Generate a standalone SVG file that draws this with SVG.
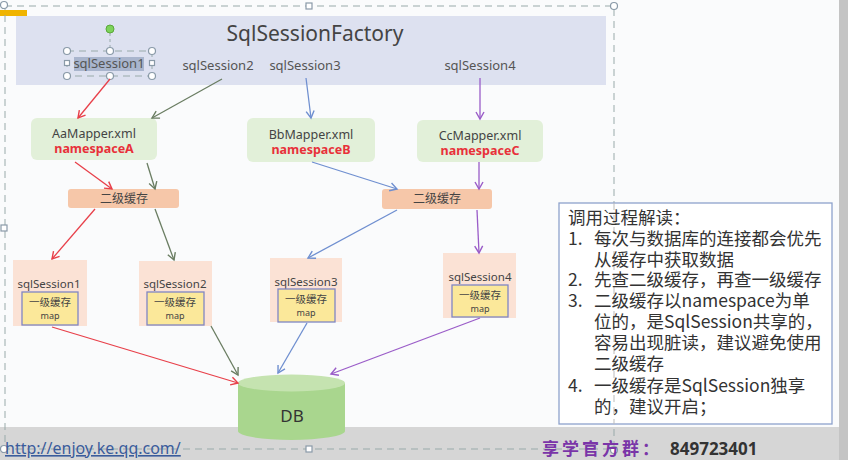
<svg xmlns="http://www.w3.org/2000/svg" width="848" height="460" viewBox="0 0 848 460">
<style>
text{font-family:"Noto Sans","Noto Sans CJK SC",sans-serif;}
.lbl{font-size:13px;fill:#555;text-anchor:middle;}
.map{fill:#e2f0d9;}
.mt{font-size:12.5px;fill:#444;text-anchor:middle;}
.ns{font-size:12.5px;fill:#e8303a;font-weight:bold;text-anchor:middle;}
.cache{fill:#f6c7a9;}
.ct{font-size:12px;fill:#444;text-anchor:middle;font-family:"Noto Sans CJK SC",sans-serif;}
.sess{fill:#fbe2d5;}
.inner{fill:#fbe89a;stroke:#7f86c4;stroke-width:1.3;}
.st{font-size:11.5px;fill:#444;text-anchor:middle;}
.it{font-size:10.5px;fill:#444;text-anchor:middle;font-family:"Noto Sans CJK SC",sans-serif;}
.im{font-size:9px;fill:#444;text-anchor:middle;}
.c{fill:none;stroke-width:1.3;}
.red{stroke:#e8404a;marker-end:url(#ar);}
.grn{stroke:#6a7d62;marker-end:url(#ag);}
.blu{stroke:#6f8fd0;marker-end:url(#ab);}
.pur{stroke:#9a5cc8;marker-end:url(#ap);}
.note{font-size:17.5px;fill:#333;font-family:"Noto Sans CJK SC",sans-serif;}
.sel{fill:none;stroke:#9aa;stroke-width:1;stroke-dasharray:7 5;}
.h{fill:#fff;stroke:#8a9aa8;stroke-width:1.2;}
</style>
<defs>
<marker id="ar" markerWidth="10" markerHeight="10" refX="8" refY="5" orient="auto" markerUnits="userSpaceOnUse"><path d="M1,1 L8,5 L1,9" fill="none" stroke="#e8404a" stroke-width="1.4"/></marker>
<marker id="ag" markerWidth="10" markerHeight="10" refX="8" refY="5" orient="auto" markerUnits="userSpaceOnUse"><path d="M1,1 L8,5 L1,9" fill="none" stroke="#6a7d62" stroke-width="1.4"/></marker>
<marker id="ab" markerWidth="10" markerHeight="10" refX="8" refY="5" orient="auto" markerUnits="userSpaceOnUse"><path d="M1,1 L8,5 L1,9" fill="none" stroke="#6f8fd0" stroke-width="1.4"/></marker>
<marker id="ap" markerWidth="10" markerHeight="10" refX="8" refY="5" orient="auto" markerUnits="userSpaceOnUse"><path d="M1,1 L8,5 L1,9" fill="none" stroke="#9a5cc8" stroke-width="1.4"/></marker>
</defs>

<rect x="0" y="0" width="848" height="460" fill="#fafbfc"/>
<rect x="0" y="427" width="848" height="33" fill="#d6d6d6"/>
<rect x="839" y="0" width="9" height="460" fill="#c4c4c4"/>
<rect x="0" y="10" width="27" height="6" fill="#f0b400"/>

<g id="factory">
<rect x="16" y="16" width="590" height="69" fill="#dde1f0"/>
<text x="315" y="41" font-size="21" fill="#444" text-anchor="middle">SqlSessionFactory</text>
<rect x="74" y="57" width="70" height="14" fill="#a9b5cd"/>
<text class="lbl" x="109" y="68">sqlSession1</text>
<text class="lbl" x="218" y="70">sqlSession2</text>
<text class="lbl" x="305" y="70">sqlSession3</text>
<text class="lbl" x="480" y="70">sqlSession4</text>
</g>

<g id="selection">
<rect class="sel" x="67" y="51" width="85" height="25"/>
<line x1="110" y1="33" x2="110" y2="51" stroke="#9aa" stroke-dasharray="3 3"/>
<circle cx="110" cy="29" r="4" fill="#7dd35a" stroke="#5aa83a"/>
<circle class="h" cx="67" cy="51" r="3.5"/><circle class="h" cx="110" cy="51" r="3.5"/><circle class="h" cx="152" cy="51" r="3.5"/>
<circle class="h" cx="67" cy="76" r="3.5"/><circle class="h" cx="110" cy="76" r="3.5"/><circle class="h" cx="152" cy="76" r="3.5"/>
<rect class="h" x="64.5" y="60.5" width="5" height="5"/><rect class="h" x="149.5" y="60.5" width="5" height="5"/>
<path class="sel" d="M5,6 H614 V449 H5 Z"/>
<circle class="h" cx="4" cy="5" r="3.5"/><rect class="h" x="306" y="3" width="6" height="6"/><circle class="h" cx="614" cy="6" r="3.5"/>
<rect class="h" x="1" y="225" width="6" height="6"/>
<circle class="h" cx="4" cy="449" r="3.5"/><rect class="h" x="306" y="446" width="6" height="6"/><circle class="h" cx="614" cy="450" r="3.5"/>
</g>

<g id="mapperA"><rect class="map" x="31" y="118" width="126" height="42" rx="6"/>
<text class="mt" x="94" y="138">AaMapper.xml</text><text class="ns" x="94" y="153">namespaceA</text></g>
<g id="mapperB"><rect class="map" x="247" y="118" width="128" height="44" rx="6"/>
<text class="mt" x="311" y="139">BbMapper.xml</text><text class="ns" x="311" y="154">namespaceB</text></g>
<g id="mapperC"><rect class="map" x="417" y="120" width="126" height="42" rx="6"/>
<text class="mt" x="480" y="140">CcMapper.xml</text><text class="ns" x="480" y="155">namespaceC</text></g>

<g id="cacheL"><rect class="cache" x="68" y="189" width="111" height="19" rx="3"/><text class="ct" x="124" y="203">二级缓存</text></g>
<g id="cacheR"><rect class="cache" x="382" y="189" width="110" height="20" rx="3"/><text class="ct" x="437" y="203">二级缓存</text></g>

<g id="session1"><rect class="sess" x="13" y="260" width="74" height="66"/>
<text class="st" x="49" y="288">sqlSession1</text>
<rect class="inner" x="22" y="292" width="56" height="33"/>
<text class="it" x="50" y="306">一级缓存</text><text class="im" x="50" y="319">map</text></g>
<g id="session2"><rect class="sess" x="139" y="261" width="73" height="65"/>
<text class="st" x="175" y="288">sqlSession2</text>
<rect class="inner" x="147" y="292" width="57" height="33"/>
<text class="it" x="175" y="306">一级缓存</text><text class="im" x="175" y="319">map</text></g>
<g id="session3"><rect class="sess" x="270" y="258" width="72" height="64"/>
<text class="st" x="306" y="286">sqlSession3</text>
<rect class="inner" x="278" y="289" width="57" height="33"/>
<text class="it" x="306" y="303">一级缓存</text><text class="im" x="306" y="316">map</text></g>
<g id="session4"><rect class="sess" x="443" y="253" width="73" height="65"/>
<text class="st" x="480" y="281">sqlSession4</text>
<rect class="inner" x="452" y="285" width="56" height="32"/>
<text class="it" x="480" y="299">一级缓存</text><text class="im" x="480" y="312">map</text></g>

<g id="db">
<path d="M238,383 V431 A53.5,9 0 0 0 345,431 V383 Z" fill="#a9d68e"/>
<ellipse cx="291.5" cy="383" rx="53.5" ry="8.5" fill="#c5e3b0"/>
<text x="292" y="422" font-size="17" fill="#333" text-anchor="middle">DB</text>
</g>

<g id="connectors">
<line class="c red" x1="110" y1="79" x2="78" y2="118"/>
<line class="c grn" x1="222" y1="79" x2="152" y2="118"/>
<line class="c blu" x1="306" y1="78" x2="311" y2="118"/>
<line class="c pur" x1="480" y1="78" x2="480" y2="119"/>
<line class="c red" x1="75" y1="162" x2="112" y2="189"/>
<line class="c grn" x1="147" y1="163" x2="155" y2="189"/>
<line class="c blu" x1="312" y1="162" x2="397" y2="189"/>
<line class="c pur" x1="479" y1="162" x2="479" y2="189"/>
<line class="c red" x1="95" y1="209" x2="52" y2="259"/>
<line class="c grn" x1="155" y1="209" x2="174" y2="260"/>
<line class="c blu" x1="397" y1="210" x2="308" y2="258"/>
<line class="c pur" x1="477" y1="210" x2="479" y2="253"/>
<line class="c red" x1="52" y1="327" x2="238" y2="383"/>
<line class="c grn" x1="211" y1="326" x2="238" y2="375"/>
<line class="c blu" x1="307" y1="323" x2="278" y2="373"/>
<line class="c pur" x1="480" y1="318" x2="331" y2="374"/>
</g>

<g id="note">
<rect x="559" y="203" width="273" height="221" fill="#fff" stroke="#8ea2cc" stroke-width="1.3"/>
<line x1="614" y1="203" x2="614" y2="424" stroke="#bbb" stroke-dasharray="7 5"/>
<text class="note"><tspan x="568" y="224">调用过程解读：</tspan><tspan x="568" y="245">1.</tspan><tspan x="594" y="245">每次与数据库的连接都会优先</tspan><tspan x="594" y="266">从缓存中获取数据</tspan><tspan x="568" y="286">2.</tspan><tspan x="594" y="286">先查二级缓存，再查一级缓存</tspan><tspan x="568" y="307">3.</tspan><tspan x="594" y="307">二级缓存以namespace为单</tspan><tspan x="594" y="328">位的，是SqlSession共享的，</tspan><tspan x="594" y="349">容易出现脏读，建议避免使用</tspan><tspan x="594" y="370">二级缓存</tspan><tspan x="568" y="392">4.</tspan><tspan x="594" y="392">一级缓存是SqlSession独享</tspan><tspan x="594" y="413">的，建议开启；</tspan></text>
</g>

<g id="footer">
<text x="5" y="454" font-size="16" fill="#3a5c9c" text-decoration="underline">http://enjoy.ke.qq.com/</text>
<text y="455" font-size="17" font-weight="bold" font-family="Noto Sans CJK SC,sans-serif"><tspan x="542" fill="#7a35a8" letter-spacing="3">享学官方群：</tspan><tspan x="670" fill="#333" font-family="Noto Sans,sans-serif" font-size="17">849723401</tspan></text>
</g>
</svg>
